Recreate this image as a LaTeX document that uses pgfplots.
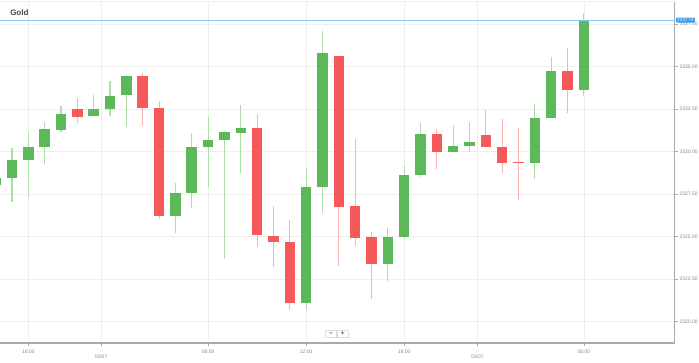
\documentclass[border=0pt]{standalone}
\usepackage{fontspec}
\setmainfont{Liberation Sans}
\usepackage{pgfplots}
\pgfplotsset{compat=1.18}
\usepackage{pgfplotstable}

\definecolor{cgreen}{RGB}{92,184,88}
\definecolor{cred}{RGB}{246,89,89}
\definecolor{wgreen}{RGB}{172,222,165}
\definecolor{wred}{RGB}{250,178,178}
\definecolor{gridc}{RGB}{238,238,238}
\definecolor{axc}{RGB}{170,170,170}
\definecolor{lblc}{RGB}{135,135,135}
\definecolor{pblue}{RGB}{135,200,245}
\definecolor{bblue}{RGB}{45,155,240}

% x = candle index, o h l c
\pgfplotstableread{
x  o        h        l        c
0  2328.04  2328.80  2327.70  2328.45
1  2328.45  2330.22  2327.04  2329.51
2  2329.51  2331.10  2327.34  2330.28
3  2330.28  2331.75  2329.28  2331.34
4  2331.25  2332.69  2331.15  2332.22
6  2332.10  2333.34  2332.04  2332.51
7  2332.51  2334.16  2332.10  2333.28
8  2333.34  2334.50  2331.45  2334.45
11 2326.22  2328.16  2325.22  2327.57
12 2327.57  2331.10  2326.69  2330.28
13 2330.28  2332.04  2327.92  2330.69
14 2330.69  2331.22  2323.69  2331.16
15 2331.10  2332.75  2328.75  2331.39
19 2321.10  2329.04  2320.69  2327.92
20 2327.92  2337.10  2326.39  2335.81
24 2323.39  2325.51  2322.39  2324.98
25 2324.98  2329.16  2324.86  2328.63
26 2328.63  2331.69  2328.51  2331.04
28 2329.98  2331.57  2329.98  2330.34
29 2330.34  2331.75  2329.98  2330.57
33 2329.34  2332.81  2328.39  2331.98
34 2331.98  2335.57  2331.98  2334.75
36 2333.63  2338.16  2333.28  2337.74
}\greentab

\pgfplotstableread{
x  o        h        l        c
5  2332.51  2333.16  2331.69  2332.04
9  2334.45  2334.63  2331.51  2332.57
10 2332.57  2332.98  2326.04  2326.22
16 2331.39  2332.22  2324.39  2325.10
17 2325.04  2326.81  2323.22  2324.69
18 2324.69  2325.98  2320.69  2321.10
21 2335.63  2335.63  2323.28  2326.75
22 2326.81  2330.75  2324.45  2324.92
23 2324.98  2325.28  2321.34  2323.39
27 2331.04  2331.34  2328.98  2329.98
30 2330.98  2332.46  2330.28  2330.28
31 2330.28  2331.92  2328.75  2329.34
32 2329.40  2331.39  2327.16  2329.34
35 2334.75  2336.10  2332.28  2333.63
}\redtab

\pgfplotsset{candle/.style={only marks, mark=text, text mark={}, forget plot,
  error bars/.cd, y dir=both, y explicit, error mark=none}}

\begin{document}
\begin{tikzpicture}
\useasboundingbox (0,0) rectangle (699pt,363pt);
\begin{axis}[
  at={(0pt,20pt)}, anchor=south west,
  scale only axis, width=674.6pt, height=341.5pt,
  xmin=0.266, xmax=41.55, ymin=2318.747, ymax=2338.835,
  axis x line*=bottom, axis y line*=right,
  axis line style={axc, line width=1.1pt},
  clip mode=individual,
  xtick={2,6.45,13,19,25,29.5,36},
  xticklabels={18:00,\raisebox{-8.5pt}{02/07},06:00,12:00,18:00,\raisebox{-8.5pt}{03/07},06:00},
  ytick={2320,2322.5,2325,2327.5,2330,2332.5,2335,2337.5},
  yticklabel style={xshift=-1.5pt, /pgf/number format/.cd, fixed, fixed zerofill, precision=2, 1000 sep={}, assume math mode=true},
  tick label style={font=\fontsize{5}{6}\selectfont, text=lblc},
  xticklabel style={yshift=-0.5pt},
  tick align=outside, major tick length=3pt,
  tick style={axc, line width=0.6pt},
  grid=major, major grid style={gridc, line width=0.8pt},
  extra y ticks={2338.835}, extra y tick labels={},
  extra tick style={grid=major, major grid style={gridc, line width=1pt}, major tick length=0pt},
]
% wicks
\addplot[candle, error bar style={wgreen, line width=1.1pt}]
  table[x=x, y=h, y error plus expr={0}, y error minus expr={\thisrow{h}-\thisrow{l}}] {\greentab};
\addplot[candle, error bar style={wred, line width=1.1pt}]
  table[x=x, y=h, y error plus expr={0}, y error minus expr={\thisrow{h}-\thisrow{l}}] {\redtab};
% bodies
\addplot[candle, error bar style={cgreen, line width=10.5pt}]
  table[x=x, y=c, y error plus expr={0}, y error minus expr={max(\thisrow{c}-\thisrow{o},0.06)}] {\greentab};
\addplot[candle, error bar style={cred, line width=10.5pt}]
  table[x=x, y=o, y error plus expr={0}, y error minus expr={max(\thisrow{o}-\thisrow{c},0.06)}] {\redtab};
% current price line
\addplot[pblue, line width=0.9pt] coordinates {(0.266,2337.74) (41.55,2337.74)};
\node[fill=bblue, text=white, rounded corners=1pt, inner xsep=1.2pt, inner ysep=0.8pt,
  font=\fontsize{4.6}{5}\selectfont, anchor=west] at (axis cs:41.62,2337.74) {2337.74};
% title
\node[anchor=west, font=\bfseries\fontsize{8}{10}\selectfont, text={rgb,255:red,70;green,70;blue,70}]
  at (rel axis cs:0.010,0.967) {Gold};
% zoom buttons
\node[draw={rgb,255:red,222;green,222;blue,222}, fill=white, minimum width=11pt, minimum height=7.5pt, inner sep=0pt,
  font=\bfseries\fontsize{6.5}{6.5}\selectfont, text={rgb,255:red,90;green,90;blue,90}] at (axis cs:20.52,2319.28) {−};
\node[draw={rgb,255:red,222;green,222;blue,222}, fill=white, minimum width=11pt, minimum height=7.5pt, inner sep=0pt,
  font=\bfseries\fontsize{6.5}{6.5}\selectfont, text={rgb,255:red,90;green,90;blue,90}] at (axis cs:21.24,2319.28) {+};
\end{axis}
\end{tikzpicture}
\end{document}
